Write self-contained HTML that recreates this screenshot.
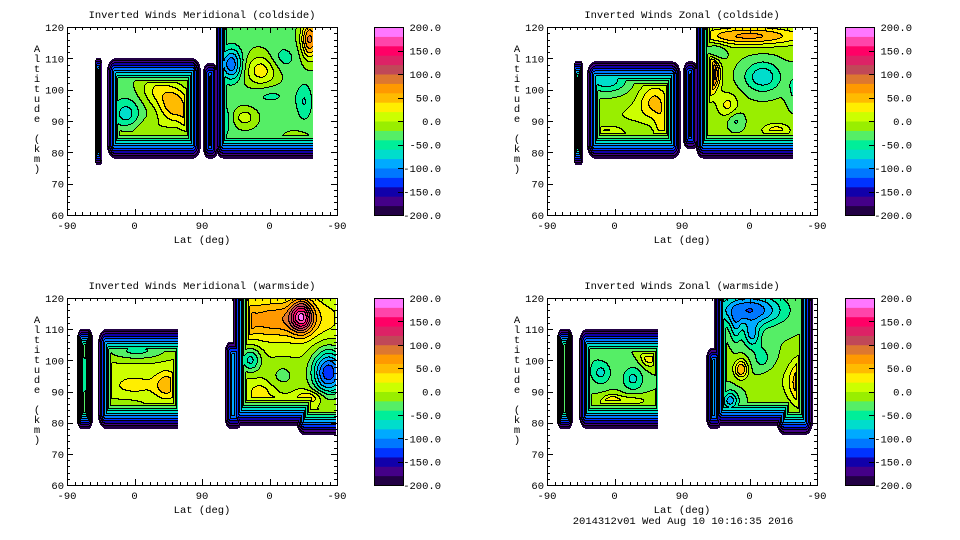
<!DOCTYPE html>
<html><head><meta charset="utf-8"><style>
html,body{margin:0;padding:0;background:#fff;width:960px;height:540px;overflow:hidden}
#root{position:relative;width:960px;height:540px}
canvas{position:absolute;image-rendering:pixelated}
svg{position:absolute;left:0;top:0}
text{font-family:"Liberation Mono",monospace;font-size:10.5px;fill:#000}
</style></head><body>
<div id="root">
<canvas id="c0" width="270" height="188" style="left:67px;top:27px"></canvas>
<canvas id="c1" width="270" height="188" style="left:547px;top:27px"></canvas>
<canvas id="c2" width="270" height="187" style="left:67px;top:298px"></canvas>
<canvas id="c3" width="270" height="187" style="left:547px;top:298px"></canvas>
<svg id="ov" width="960" height="540"></svg>
</div>
<script>
const levelColors = ["#220044","#440088","#1100aa","#0033ff","#0077ff","#00aaff","#00ddcc","#00ee99","#55ee66","#99ee00","#ccff00","#ffee00","#ffbb00","#ff9900","#dd7730","#c04858","#dd2266","#ff0066","#ff44aa","#ff77ff"];
const cbarLabels = [200,150,100,50,0,-50,-100,-150,-200];
const xTickLabels = ["-90","0","90","0","-90"];
const yTickLabels = [60,70,80,90,100,110,120];

// panel 0: Meridional coldside
const tlBase = -25;
const tlU   = [0.22,0.40,0.33,0.20,0.72,0.66,0.61,0.90,0.88,0.53,0.85,0.30,0.45,0.75,0.80,0.58];
const tlAlt = [92,95,100,86,106,91,108,116,96,95,85,88,90,98,110,90];
const tlSU  = [0.05,0.06,0.06,0.05,0.06,0.04,0.04,0.03,0.03,0.03,0.04,0.08,0.03,0.08,0.05,0.03];
const tlSA  = [5,6,5,2.5,5,3,5,6,6,6,1.5,3,4,3,4,6];
const tlAmp = [-45,80,40,15,55,35,-90,110,-35,-40,25,20,40,-20,-25,-30];
// [u0,u1,alt0,alt1,radius,kY,cutU,kX]
const tlPatches = [[0.104,0.13,76,110,6,10,1,40],[0.148,0.496,78,110,14,8,1,14],[0.504,0.56,78,108.5,10,8,1,14],[0.55,0.99,78,130,14,8,0.911,14]];

// panel 1: Zonal coldside
const trBase = -15;
const trU   = [0.22,0.40,0.22,0.61,0.75,0.80,0.85,0.67,0.52,0.70,0.30,0.43,0.62,0.92,0.58];
const trAlt = [103,96,85,105,117,104,87,95,92,90,92,88,112,100,100];
const trSU  = [0.08,0.06,0.06,0.03,0.2,0.07,0.05,0.04,0.03,0.03,0.08,0.03,0.04,0.03,0.03];
const trSA  = [4,6,2.5,5,3,5,2,4,6,3,4,5,3,6,4];
const trAmp = [-60,60,65,130,80,-60,45,40,-60,-30,15,40,-40,-30,50];
const trPatches = [[0.10,0.133,76,109,6,10,1,40],[0.148,0.496,78,109,14,8,1,14],[0.504,0.56,81,109,10,8,1,14],[0.55,0.99,78,130,14,8,0.911,14]];

// panel 2: Meridional warmside
const blBase = 5;
const blU   = [0.26,0.25,0.37,0.78,0.66,0.87,0.68,0.97,0.72,0.60,0.065,0.20,0.80,0.90,0.75];
const blAlt = [103,92,92,113,112,114,100,96,90,88,95,86,95,88,86];
const blSU  = [0.12,0.1,0.04,0.18,0.03,0.04,0.04,0.06,0.05,0.015,0.02,0.1,0.06,0.05,0.06];
const blSA  = [3,4,4,6,4,5,4,7,3,3,10,2,5,2,2];
const blAmp = [-50,20,50,70,40,130,-70,-140,25,40,-60,-15,-30,40,40];
const blPatches = [[0.037,0.096,78,110,10,10,1,22],[0.115,0.45,78,110,14,8,0.41,14],[0.585,0.65,78,106,10,8,1,14],[0.615,1.05,79,130,14,8,0.997,14],[0.85,1.05,76,100,14,8,0.997,14]];

// panel 3: Zonal warmside
const brBase = -20;
const brU   = [0.20,0.32,0.38,0.24,0.30,0.75,0.76,0.72,0.96,0.68,0.60,0.82,0.15,0.70,0.65,0.80];
const brAlt = [96,94,101,86,87,116,108,97,93,87,95,93,103,110,100,100];
const brSU  = [0.04,0.04,0.03,0.03,0.1,0.12,0.03,0.025,0.06,0.03,0.02,0.05,0.04,0.02,0.03,0.04];
const brSA  = [4,4,3,2.5,2,5,4,3,7,3,8,6,4,5,4,5];
const brAmp = [-45,-45,60,55,30,-100,-60,80,110,-70,-50,20,-20,-40,20,-30];
const brPatches = [[0.037,0.096,78,110,10,10,1,22],[0.118,0.45,78,110,14,8,0.41,14],[0.59,0.65,78,104,10,8,1,14],[0.62,0.985,79,130,14,8,1,14],[0.85,0.985,76,100,14,8,1,14]];

const panels = [
 {cv:"c0",x:67,y:27,w:270,h:188,base:tlBase,U:tlU,A:tlAlt,SU:tlSU,SA:tlSA,M:tlAmp,P:tlPatches,title:"Inverted Winds Meridional (coldside)",cx:374},
 {cv:"c1",x:547,y:27,w:270,h:188,base:trBase,U:trU,A:trAlt,SU:trSU,SA:trSA,M:trAmp,P:trPatches,title:"Inverted Winds Zonal (coldside)",cx:845},
 {cv:"c2",x:67,y:298,w:270,h:187,base:blBase,U:blU,A:blAlt,SU:blSU,SA:blSA,M:blAmp,P:blPatches,title:"Inverted Winds Meridional (warmside)",cx:374},
 {cv:"c3",x:547,y:298,w:270,h:187,base:brBase,U:brU,A:brAlt,SU:brSU,SA:brSA,M:brAmp,P:brPatches,title:"Inverted Winds Zonal (warmside)",cx:845}
];
function hex(c){return [parseInt(c.slice(1,3),16),parseInt(c.slice(3,5),16),parseInt(c.slice(5,7),16)];}
const rgb = levelColors.map(hex);

panels.forEach(p=>{
  const W=p.w,H=p.h;
  const xs=u=>u*W, ys=a=>(120-a)/60*H;
  const lev=new Int16Array(W*H).fill(-1);
  for(let j=0;j<H;j++)for(let i=0;i<W;i++){
    const px=i+0.5,py=j+0.5;
    let best=-1e9,inside=false;
    const u=px/W, a=120-py/H*60;
    let interior=p.base;
    for(let b=0;b<p.U.length;b++){
      const du=(u-p.U[b])/p.SU[b], da=(a-p.A[b])/p.SA[b];
      interior+=p.M[b]*Math.exp(-(du*du+da*da));
    }
    for(const q of p.P){
      if(u>q[6])continue;
      const k=q[5], s=q[7]/q[5];
      const x0=xs(q[0])*s,x1=xs(q[1])*s,y0=ys(q[3]),y1=ys(q[2]);
      const r=Math.min(q[4],(x1-x0)/2,(y1-y0)/2);
      const sx=px*s;
      const qx=Math.max(x0-sx,sx-x1)+r, qy=Math.max(y0-py,py-y1)+r;
      const out=Math.hypot(Math.max(qx,0),Math.max(qy,0));
      const sdf=out+Math.min(Math.max(qx,qy),0)-r;
      const d=-sdf;
      if(d>0){inside=true;const v=Math.min(interior,-200+k*d);if(v>best)best=v;}
    }
    if(inside){
      let v=Math.max(-200,Math.min(199.9,best));
      lev[j*W+i]=Math.floor((v+200)/20);
    }
  }
  const ctx=document.getElementById(p.cv).getContext("2d");
  const img=ctx.createImageData(W,H);
  for(let j=0;j<H;j++)for(let i=0;i<W;i++){
    const L=lev[j*W+i],o=(j*W+i)*4;
    if(L<0){img.data[o]=255;img.data[o+1]=255;img.data[o+2]=255;img.data[o+3]=255;continue;}
    let black=false;
    if(i+1<W){const R=lev[j*W+i+1];if(R>=0&&R!==L)black=true;}
    if(j+1<H){const D=lev[(j+1)*W+i];if(D>=0&&D!==L)black=true;}
    const c=black?[0,0,0]:rgb[L];
    img.data[o]=c[0];img.data[o+1]=c[1];img.data[o+2]=c[2];img.data[o+3]=255;
  }
  ctx.putImageData(img,0,0);
});

const NS="http://www.w3.org/2000/svg";
const ov=document.getElementById("ov");
function mk(tag,attrs,parent){const e=document.createElementNS(NS,tag);for(const k in attrs)e.setAttribute(k,attrs[k]);(parent||ov).appendChild(e);return e;}
function txt(s,x,y,anchor){const t=mk("text",{x:x,y:y,"text-anchor":anchor||"start"});t.textContent=s;return t;}

panels.forEach((p,pi)=>{
  const g=mk("g",{});
  
  
  const fr=mk("rect",{x:p.x+0.5,y:p.y+0.5,width:p.w,height:p.h,fill:"none",stroke:"#000","stroke-width":1},g);
  
  
  let d="";
  for(let m=0;m<=36;m++){const x=Math.round(p.x+m*p.w/36)+0.5;const len=(m%9===0)?6:3;d+=`M${x} ${p.y+p.h}v-${len}M${x} ${p.y}v${len}`;}
  for(let a=60;a<=120;a+=2){const y=Math.round(p.y+(120-a)/60*p.h)+0.5;const len=(a%10===0)?6:3;d+=`M${p.x} ${y}h${len}M${p.x+p.w} ${y}h-${len}`;}
  const tk=mk("path",{d:d,stroke:"#000","stroke-width":1,fill:"none"},g);
  
  
  xTickLabels.forEach((s,i)=>{const t=txt(s,p.x+i*p.w/4,p.y+p.h+14,"middle");
    
    });
  yTickLabels.forEach(a=>{const t=txt(String(a),p.x-3,p.y+(120-a)/60*p.h+4,"end");
    
    });
  const ti=txt(p.title,p.x+p.w/2,p.y-9,"middle");
  
  
  const xl=txt("Lat (deg)",p.x+p.w/2,p.y+p.h+28,"middle");
  
  
  const yl=mk("g",{},g);
  
  
  "Altitude (km)".split("").forEach((ch,i)=>{if(ch!==" "){const t=txt(ch,p.x-30,p.y+25+i*10,"middle");yl.appendChild(t);}});
  const cb=mk("g",{},g);
  
  
  const bh=p.h/20;
  levelColors.forEach((c,i)=>{const r=mk("rect",{x:p.cx,y:p.y+(19-i)*bh,width:29,height:bh+0.5,fill:c},cb);
    
    });
  mk("rect",{x:p.cx+0.5,y:p.y+0.5,width:29,height:p.h,fill:"none",stroke:"#000"},cb);
  cbarLabels.forEach(v=>{const y=p.y+(200-v)/400*p.h;
    if(v<200&&v>-200)mk("path",{d:`M${p.cx+24} ${Math.round(y)+0.5}h6`,stroke:"#000"},cb);
    const t=txt(v.toFixed(1),p.cx+67,y+4,"end");
    
    });
});
const ft=txt("2014312v01 Wed Aug 10 10:16:35 2016",683,524,"middle");


</script>
</body></html>
